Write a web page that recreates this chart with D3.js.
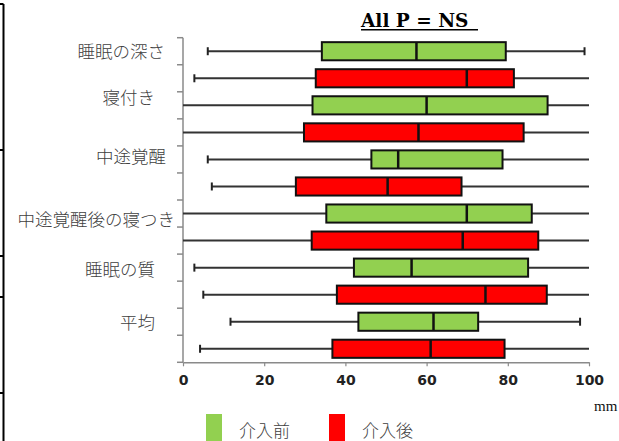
<!DOCTYPE html>
<html>
<head>
<meta charset="utf-8">
<script src="https://cdn.jsdelivr.net/npm/d3@7/dist/d3.min.js"></script>
<style>
  html, body { margin: 0; padding: 0; background: #fff; }
  svg { display: block; }
</style>
</head>
<body>
<svg id="chart" width="619" height="441"></svg>
<script>
// Sleep questionnaire (VAS, mm): before vs. after intervention
const categories = ["睡眠の深さ", "寝付き", "中途覚醒", "中途覚醒後の寝つき", "睡眠の質", "平均"];
const seriesNames = ["介入前", "介入後"];
const xTicks = [0, 20, 40, 60, 80, 100];
const titleText = "All P = NS";
const unitText = "mm";

// 介入前 (before)
const preMin = [6.1, 0, 6.1, 0, 2.8, 11.7];
const preQ1  = [34.2, 31.9, 46.4, 35.3, 42.1, 43.2];
const preMed = [57.5, 60.0, 53.0, 69.9, 56.3, 61.7];
const preQ3  = [79.5, 89.8, 78.7, 85.9, 85.0, 72.7];
const preMax = [98.9, 100, 100, 100, 100, 97.8];

// 介入後 (after)
const postMin = [2.8, 0, 7.1, 0, 5.0, 4.2];
const postQ1  = [32.7, 29.8, 27.8, 31.7, 37.9, 36.8];
const postMed = [69.9, 58.0, 50.4, 68.9, 74.5, 61.0];
const postQ3  = [81.5, 83.9, 68.6, 87.5, 89.6, 79.2];
const postMax = [100, 100, 100, 100, 100, 100];

const colors = ["#92D050", "#FF0000"];

// ---- layout ----
const plot = { left: 183, right: 589, top: 37.7, bottom: 362.3 };
// where each category label sits (row units) and where its text ends (px)
const labelRow = [0.52, 2.23, 4.40, 6.74, 8.59, 10.55];
const labelEnd = [165, 155, 166, 175, 155, 155];

const rows = [];
categories.forEach((c, i) => {
  rows.push({ key: i * 2, g: 0, min: preMin[i], q1: preQ1[i], med: preMed[i], q3: preQ3[i], max: preMax[i] });
  rows.push({ key: i * 2 + 1, g: 1, min: postMin[i], q1: postQ1[i], med: postMed[i], q3: postQ3[i], max: postMax[i] });
});

const svg = d3.select("#chart");

const x = d3.scaleLinear().domain([0, 100]).range([plot.left, plot.right]);
const rowPos = d3.scaleLinear().domain([0, rows.length]).range([plot.top, plot.bottom]);
const y = d3.scaleBand()
  .domain(rows.map(r => r.key))
  .range([plot.top, plot.bottom])
  .paddingInner(0.33)
  .paddingOuter(0.165);

svg.append("defs").append("clipPath").attr("id", "plotClip")
  .append("rect")
  .attr("x", plot.left).attr("y", plot.top - 5)
  .attr("width", plot.right - plot.left).attr("height", plot.bottom - plot.top + 10);

// frame fragment on the far left
const leftFrame = svg.append("g").attr("stroke", "#000").attr("stroke-width", 2);
leftFrame.append("line").attr("x1", 3.5).attr("x2", 3.5).attr("y1", 4).attr("y2", 441);
[4, 150, 256, 297, 393].forEach(v => {
  leftFrame.append("line").attr("x1", 0).attr("x2", 3.5).attr("y1", v).attr("y2", v);
});

// y axis with ticks on the row boundaries
const yAxis = svg.append("g").attr("stroke", "#8a8a8a").attr("stroke-width", 1.5);
yAxis.append("line").attr("x1", plot.left).attr("x2", plot.left)
  .attr("y1", plot.top).attr("y2", plot.bottom);
d3.range(rows.length + 1).forEach(k => {
  yAxis.append("line").attr("x1", plot.left - 6).attr("x2", plot.left)
    .attr("y1", rowPos(k)).attr("y2", rowPos(k));
});

// x axis
const xAxis = svg.append("g")
  .attr("transform", `translate(0,${plot.bottom})`)
  .call(d3.axisBottom(x).tickValues(xTicks).tickSize(4).tickSizeOuter(0).tickPadding(9));
xAxis.select(".domain").attr("stroke", "#8a8a8a").attr("stroke-width", 1.5);
xAxis.selectAll(".tick line").attr("stroke", "#8a8a8a").attr("stroke-width", 1.2);
xAxis.selectAll(".tick text")
  .attr("fill", "#222")
  .attr("font-family", "'DejaVu Sans', sans-serif")
  .attr("font-weight", "bold")
  .attr("font-size", 14);

// boxes
const boxG = svg.append("g");
const box = boxG.selectAll("g.box").data(rows).join("g").attr("class", "box");

box.append("line")
  .attr("clip-path", "url(#plotClip)")
  .attr("x1", d => x(d.min)).attr("x2", d => x(d.max))
  .attr("y1", d => y(d.key) + y.bandwidth() / 2)
  .attr("y2", d => y(d.key) + y.bandwidth() / 2)
  .attr("stroke", "#333").attr("stroke-width", 2);

// whisker caps (only where the end lies inside the scale)
box.filter(d => d.min > 0).append("line")
  .attr("x1", d => x(d.min)).attr("x2", d => x(d.min))
  .attr("y1", d => y(d.key) + y.bandwidth() / 2 - 4)
  .attr("y2", d => y(d.key) + y.bandwidth() / 2 + 4)
  .attr("stroke", "#222").attr("stroke-width", 2);
box.filter(d => d.max < 100).append("line")
  .attr("x1", d => x(d.max)).attr("x2", d => x(d.max))
  .attr("y1", d => y(d.key) + y.bandwidth() / 2 - 4)
  .attr("y2", d => y(d.key) + y.bandwidth() / 2 + 4)
  .attr("stroke", "#222").attr("stroke-width", 2);

box.append("rect")
  .attr("x", d => x(d.q1))
  .attr("width", d => x(d.q3) - x(d.q1))
  .attr("y", d => y(d.key))
  .attr("height", y.bandwidth())
  .attr("fill", d => colors[d.g])
  .attr("stroke", "#111").attr("stroke-width", 2);

box.append("line")
  .attr("x1", d => x(d.med)).attr("x2", d => x(d.med))
  .attr("y1", d => y(d.key)).attr("y2", d => y(d.key) + y.bandwidth())
  .attr("stroke", "#111").attr("stroke-width", 2.5);

// category labels
svg.append("g").selectAll("text").data(categories).join("text")
  .attr("x", (d, i) => labelEnd[i])
  .attr("y", (d, i) => rowPos(labelRow[i]))
  .attr("dy", "0.35em")
  .attr("text-anchor", "end")
  .attr("fill", "#404040")
  .attr("font-family", "'Noto Sans CJK JP', sans-serif")
  .attr("font-weight", 300)
  .attr("font-size", 17.5)
  .text(d => d);

// title
svg.append("text")
  .attr("x", 361).attr("y", 26.5)
  .attr("font-family", "'DejaVu Serif', serif")
  .attr("font-weight", "bold")
  .attr("font-size", 18.5)
  .attr("fill", "#000")
  .text(titleText);
svg.append("line").attr("x1", 361).attr("x2", 478).attr("y1", 29.8).attr("y2", 29.8)
  .attr("stroke", "#000").attr("stroke-width", 1.5);

// unit
svg.append("text")
  .attr("x", 594).attr("y", 411)
  .attr("font-family", "'Liberation Serif', serif")
  .attr("font-size", 15)
  .attr("fill", "#111")
  .text(unitText);

// legend
const legendX = [206, 329];
const legend = svg.append("g").selectAll("g").data(seriesNames).join("g")
  .attr("transform", (d, i) => `translate(${legendX[i]},414)`);
legend.append("rect").attr("x", 0).attr("y", 0).attr("width", 16).attr("height", 30)
  .attr("fill", (d, i) => colors[i]);
legend.append("text").attr("x", 33).attr("y", 17).attr("dy", "0.35em")
  .attr("fill", "#404040")
  .attr("font-family", "'Noto Sans CJK JP', sans-serif")
  .attr("font-weight", 300)
  .attr("font-size", 17)
  .text(d => d);
</script>
</body>
</html>
